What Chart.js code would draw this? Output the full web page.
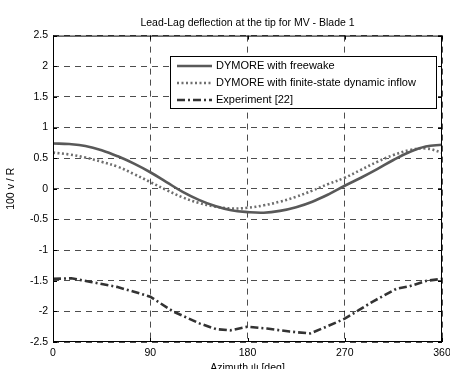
<!DOCTYPE html>
<html>
<head>
<meta charset="utf-8">
<script src="https://cdn.jsdelivr.net/npm/chart.js@4"></script>
<style>
  html, body { margin: 0; padding: 0; background: #fff; }
  #wrap { width: 450px; height: 369px; }
</style>
</head>
<body>
<div id="wrap"><canvas id="grafico"></canvas></div>
<script>
const azimuth = [0, 15, 30, 45, 60, 75, 90, 105, 120, 135, 150, 165, 180, 195, 210, 225, 240, 255, 270, 285, 300, 315, 330, 345, 360];
const freewake = [0.74, 0.73, 0.70, 0.63, 0.53, 0.41, 0.27, 0.11, -0.05, -0.18, -0.28, -0.35, -0.38, -0.39, -0.36, -0.30, -0.21, -0.09, 0.05, 0.18, 0.32, 0.47, 0.60, 0.69, 0.72];
const finiteState = [0.59, 0.56, 0.51, 0.44, 0.36, 0.24, 0.11, -0.02, -0.14, -0.23, -0.29, -0.32, -0.31, -0.27, -0.21, -0.13, -0.03, 0.08, 0.18, 0.31, 0.44, 0.55, 0.63, 0.66, 0.59];

const expAzimuth = [0, 17, 35, 59, 75, 90, 111, 136, 151, 164, 180, 198, 219, 238, 253, 270, 283, 296, 318, 330, 346, 360];
const experiment = [-1.47, -1.46, -1.52, -1.60, -1.68, -1.76, -2.0, -2.2, -2.29, -2.31, -2.25, -2.28, -2.33, -2.36, -2.25, -2.12, -1.98, -1.84, -1.63, -1.59, -1.50, -1.47];

const labels = ['DYMORE with freewake', 'DYMORE with finite-state dynamic inflow', 'Experiment [22]'];
const xTicks = [0, 90, 180, 270, 360];
const yTicks = [-2.5, -2, -1.5, -1, -0.5, 0, 0.5, 1, 1.5, 2, 2.5];

const FONT = 'Liberation Sans, Arial, Helvetica, sans-serif';

function pts(xs, ys) {
  return xs.map((x, i) => ({ x: x, y: ys[i] }));
}

// box, inner ticks, legend and x title (matlab look)
const matlabLook = {
  id: 'matlabLook',
  afterDraw(chart) {
    const ctx = chart.ctx;
    const a = chart.chartArea;
    const xs = chart.scales.x, ys = chart.scales.y;
    ctx.save();
    ctx.strokeStyle = '#000';
    ctx.lineWidth = 1;
    ctx.setLineDash([]);
    ctx.strokeRect(a.left + 0.5, a.top + 0.5, a.right - a.left - 1, a.bottom - a.top - 1);
    ctx.beginPath();
    xTicks.forEach(v => {
      const px = Math.round(xs.getPixelForValue(v)) + 0.5;
      ctx.moveTo(px, a.bottom); ctx.lineTo(px, a.bottom - 4);
      ctx.moveTo(px, a.top); ctx.lineTo(px, a.top + 4);
    });
    yTicks.forEach(v => {
      const py = Math.round(ys.getPixelForValue(v)) + 0.5;
      ctx.moveTo(a.left, py); ctx.lineTo(a.left + 4, py);
      ctx.moveTo(a.right, py); ctx.lineTo(a.right - 4, py);
    });
    ctx.stroke();

    // legend
    const lx = 170, ly = 56, lw = 266, lh = 52;
    ctx.fillStyle = '#fff';
    ctx.fillRect(lx, ly, lw, lh);
    ctx.strokeRect(lx + 0.5, ly + 0.5, lw, lh);
    ctx.font = '11px ' + FONT;
    ctx.textBaseline = 'middle';
    chart.data.datasets.forEach((ds, i) => {
      const y = ly + 10 + i * 17;
      ctx.strokeStyle = ds.borderColor;
      ctx.lineWidth = ds.borderWidth;
      ctx.setLineDash(ds.borderDash || []);
      ctx.beginPath();
      ctx.moveTo(177, y); ctx.lineTo(212, y);
      ctx.stroke();
      ctx.fillStyle = '#000';
      ctx.fillText(ds.label, 216, y);
    });

    // x title
    ctx.setLineDash([]);
    ctx.fillStyle = '#000';
    ctx.textAlign = 'center';
    ctx.font = '10.5px ' + FONT;
    ctx.fillText('Azimuth \u03C8 [deg]', (a.left + a.right) / 2, 368);
    ctx.restore();
  }
};

new Chart(document.getElementById('grafico'), {
  type: 'line',
  data: {
    datasets: [{
      label: labels[0],
      data: pts(azimuth, freewake),
      borderColor: '#595959',
      borderWidth: 2.6,
      pointRadius: 0,
      tension: 0.4
    }, {
      label: labels[1],
      data: pts(azimuth, finiteState),
      borderColor: '#6e6e6e',
      borderWidth: 2.6,
      borderDash: [2, 2.5],
      pointRadius: 0,
      tension: 0.4
    }, {
      label: labels[2],
      data: pts(expAzimuth, experiment),
      borderColor: '#333333',
      borderWidth: 2.6,
      borderDash: [8, 3, 2, 3],
      pointRadius: 0,
      tension: 0
    }]
  },
  options: {
    responsive: true,
    maintainAspectRatio: false,
    animation: false,
    layout: { padding: { left: 0, right: 0, top: 0, bottom: 0 } },
    plugins: {
      legend: { display: false },
      tooltip: { enabled: false },
      title: {
        display: true,
        fullSize: false,
        text: 'Lead-Lag deflection at the tip for MV - Blade 1',
        color: '#000',
        font: { family: FONT, size: 10.5, weight: 'normal' },
        padding: { top: 17, bottom: 6 }
      }
    },
    scales: {
      x: {
        type: 'linear',
        min: 0, max: 360,
        afterBuildTicks: s => { s.ticks = xTicks.map(v => ({ value: v })); },
        afterFit: s => { s.height = 27; s.paddingRight = 8; s.paddingLeft = 0; },
        grid: { color: '#000', lineWidth: 0.7, tickLength: 0, drawTicks: false },
        border: { display: false, dash: [6, 5] },
        ticks: { color: '#000', padding: 5, maxRotation: 0, font: { family: FONT, size: 10.5 } }
      },
      y: {
        type: 'linear',
        min: -2.5, max: 2.5,
        afterBuildTicks: s => { s.ticks = yTicks.map(v => ({ value: v })); },
        afterFit: s => { s.width = 53; },
        grid: { color: '#000', lineWidth: 0.7, tickLength: 0, drawTicks: false },
        border: { display: false, dash: [6, 5] },
        ticks: {
          color: '#000', padding: 5, font: { family: FONT, size: 10.5 },
          callback: v => String(v)
        },
        title: {
          display: true,
          text: '100 v / R',
          color: '#000',
          font: { family: FONT, size: 10.5 },
          padding: { top: 5, bottom: 0 }
        }
      }
    }
  },
  plugins: [matlabLook]
});
</script>
</body>
</html>
